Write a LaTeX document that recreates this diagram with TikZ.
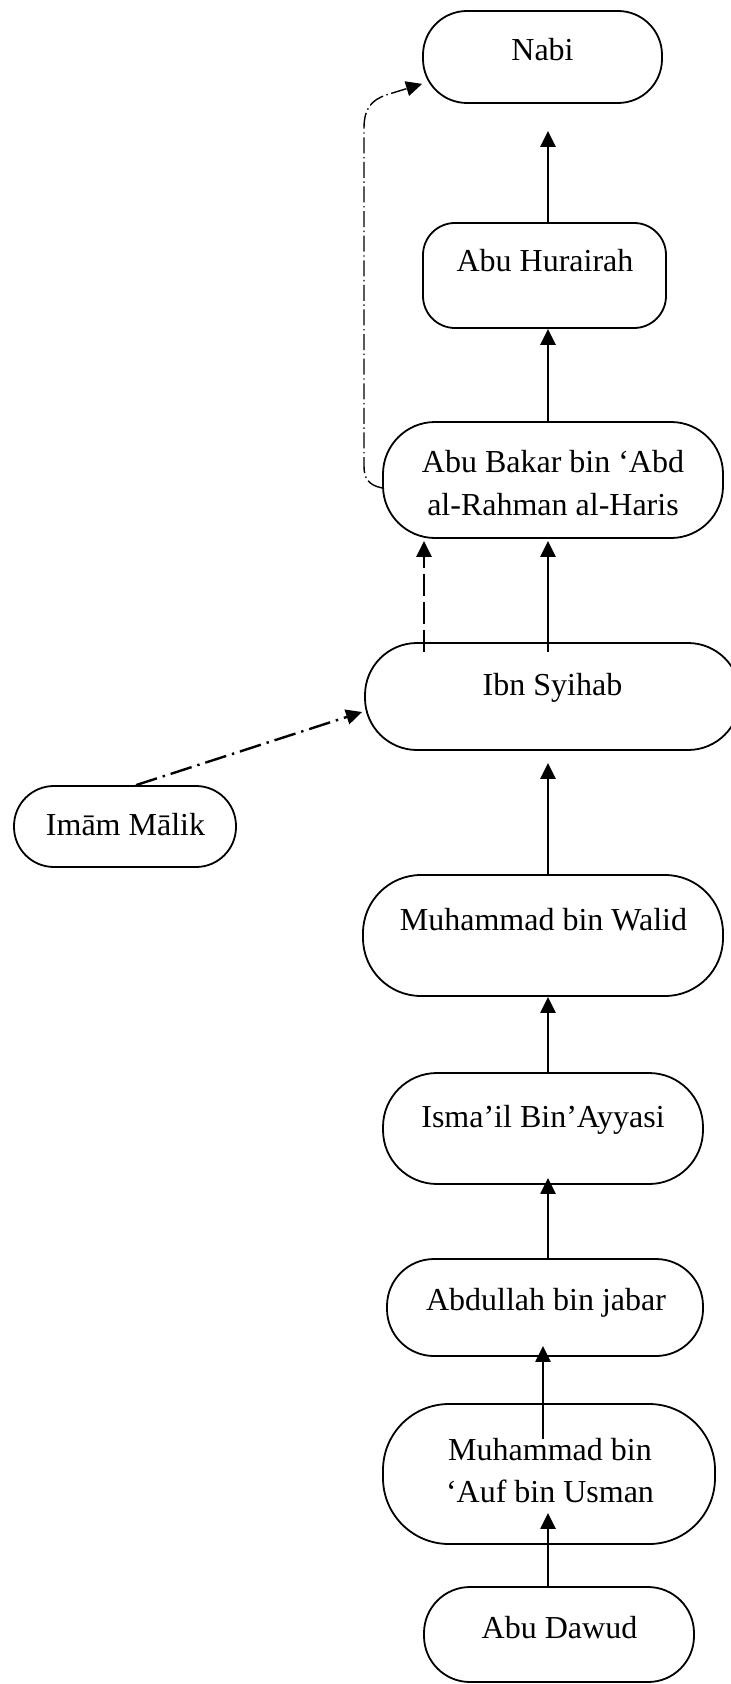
\documentclass[tikz,border=0pt]{standalone}
\usepackage{fontspec}
\setmainfont{Liberation Serif}
\usetikzlibrary{arrows.meta,calc}
\begin{document}
\begin{tikzpicture}[x=0.5pt,y=-0.5pt,
  box/.style={draw, line width=0.9pt, inner sep=0pt},
  lbl/.style={font=\fontsize{16}{21}\selectfont, inner sep=0pt, anchor=base, align=center},
  tip/.style={-{Triangle[length=8pt,width=7.5pt]}},
  arr/.style={tip, line width=1.2pt},
  dasharr/.style={tip, line width=1.2pt, dash pattern=on 11pt off 3pt},
  dotarr/.style={tip, line width=1.2pt, dash pattern=on 11pt off 3pt on 1.2pt off 3pt},
  thinarr/.style={tip, line width=0.7pt, dash pattern=on 8pt off 1.8pt on 0.7pt off 1.8pt}]

\useasboundingbox (0,0) rectangle (731,1684);

% boxes of the chain
\node[box, rounded corners=22pt, minimum width=119.5pt, minimum height=46pt]   (nabi)  at (542.5,57)    {};
\node[box, rounded corners=16pt, minimum width=121.5pt, minimum height=52.5pt] (hur)   at (544.5,275.5) {};
\node[box, rounded corners=26pt, minimum width=170pt,   minimum height=58pt]   (bakar) at (553,480)     {};
\node[box, rounded corners=26pt, minimum width=187.5pt, minimum height=53.5pt] (ibn)   at (552.5,696.5) {};
\node[box, rounded corners=20pt, minimum width=111pt,   minimum height=40.5pt] (imam)  at (125,826.5)   {};
\node[box, rounded corners=29pt, minimum width=180pt,   minimum height=60.5pt] (walid) at (543,935.5)   {};
\node[box, rounded corners=27pt, minimum width=160pt,   minimum height=55.5pt] (isma)  at (543,1128.5)  {};
\node[box, rounded corners=23.5pt, minimum width=158pt, minimum height=48.5pt] (abd)   at (545,1307.5)  {};
\node[box, rounded corners=33pt, minimum width=166pt,   minimum height=70pt]   (auf)   at (549,1474)    {};
\node[box, rounded corners=23pt, minimum width=135pt,   minimum height=47.5pt] (dawud) at (559,1634.5)  {};

% names (multi-line labels sit on the baseline of their last line)
\node[lbl] (nabi-t)  at (542.5,61)  {Nabi};
\node[lbl] (hur-t)   at (545,272)   {Abu Hurairah};
\node[lbl] (bakar-t) at (553,515)   {Abu Bakar bin ‘Abd\\al-Rahman al-Haris};
\node[lbl] (ibn-t)   at (552.5,695) {Ibn Syihab};
\node[lbl] (imam-t)  at (125.5,835) {Imām Mālik};
\node[lbl] (walid-t) at (543.5,930) {Muhammad bin Walid};
\node[lbl] (isma-t)  at (543,1127)  {Isma’il Bin’Ayyasi};
\node[lbl] (abd-t)   at (546,1310)  {Abdullah bin jabar};
\node[lbl] (auf-t)   at (550,1502)  {Muhammad bin\\‘Auf bin Usman};
\node[lbl] (dawud-t) at (559.5,1638) {Abu Dawud};

% transmission arrows
\draw[arr, shorten >=13.5pt] ([xshift=1.75pt]hur.north) -- ([xshift=2.75pt]nabi.south);
\draw[arr] ([xshift=-2.5pt]bakar.north) -- ([xshift=1.75pt]hur.south);
\draw[arr, shorten <=-5pt, shorten >=1pt] ([xshift=-2.25pt]ibn.north) -- ([xshift=-2.5pt]bakar.south);
\draw[dasharr, shorten <=-5pt, shorten >=1pt] ([xshift=-64.25pt]ibn.north) -- ([xshift=-64.5pt]bakar.south);
\draw[dotarr] ([xshift=5.5pt]imam.north) -- ([xshift=-1pt,yshift=-7.75pt]ibn.west);
\draw[arr, shorten >=6pt] ([xshift=2.5pt]walid.north) -- ([xshift=-2.25pt]ibn.south);
\draw[arr] ([xshift=2.5pt]isma.north) -- ([xshift=2.5pt]walid.south);
\draw[arr, shorten >=-3.5pt] ([xshift=1.5pt]abd.north) -- ([xshift=2.5pt]isma.south);
\draw[arr, shorten <=-18pt, shorten >=-5.5pt] ([xshift=-3pt]auf.north) -- ([xshift=-1pt]abd.south);
\draw[arr, shorten >=-16pt] ([xshift=-5.5pt]dawud.north) -- ([xshift=-0.5pt]auf.south);

% side link from Abu Bakar up to Nabi
\coordinate (sideA) at ([yshift=-4pt]bakar.west);
\coordinate (sideB) at ([yshift=10pt]nabi.south west);
\draw[thinarr] (sideA) .. controls (368,485) and (364,478) .. (364,466)
  -- (364,128) .. controls (364,108) and (372,100) .. (386,95) -- (sideB);
\end{tikzpicture}
\end{document}
